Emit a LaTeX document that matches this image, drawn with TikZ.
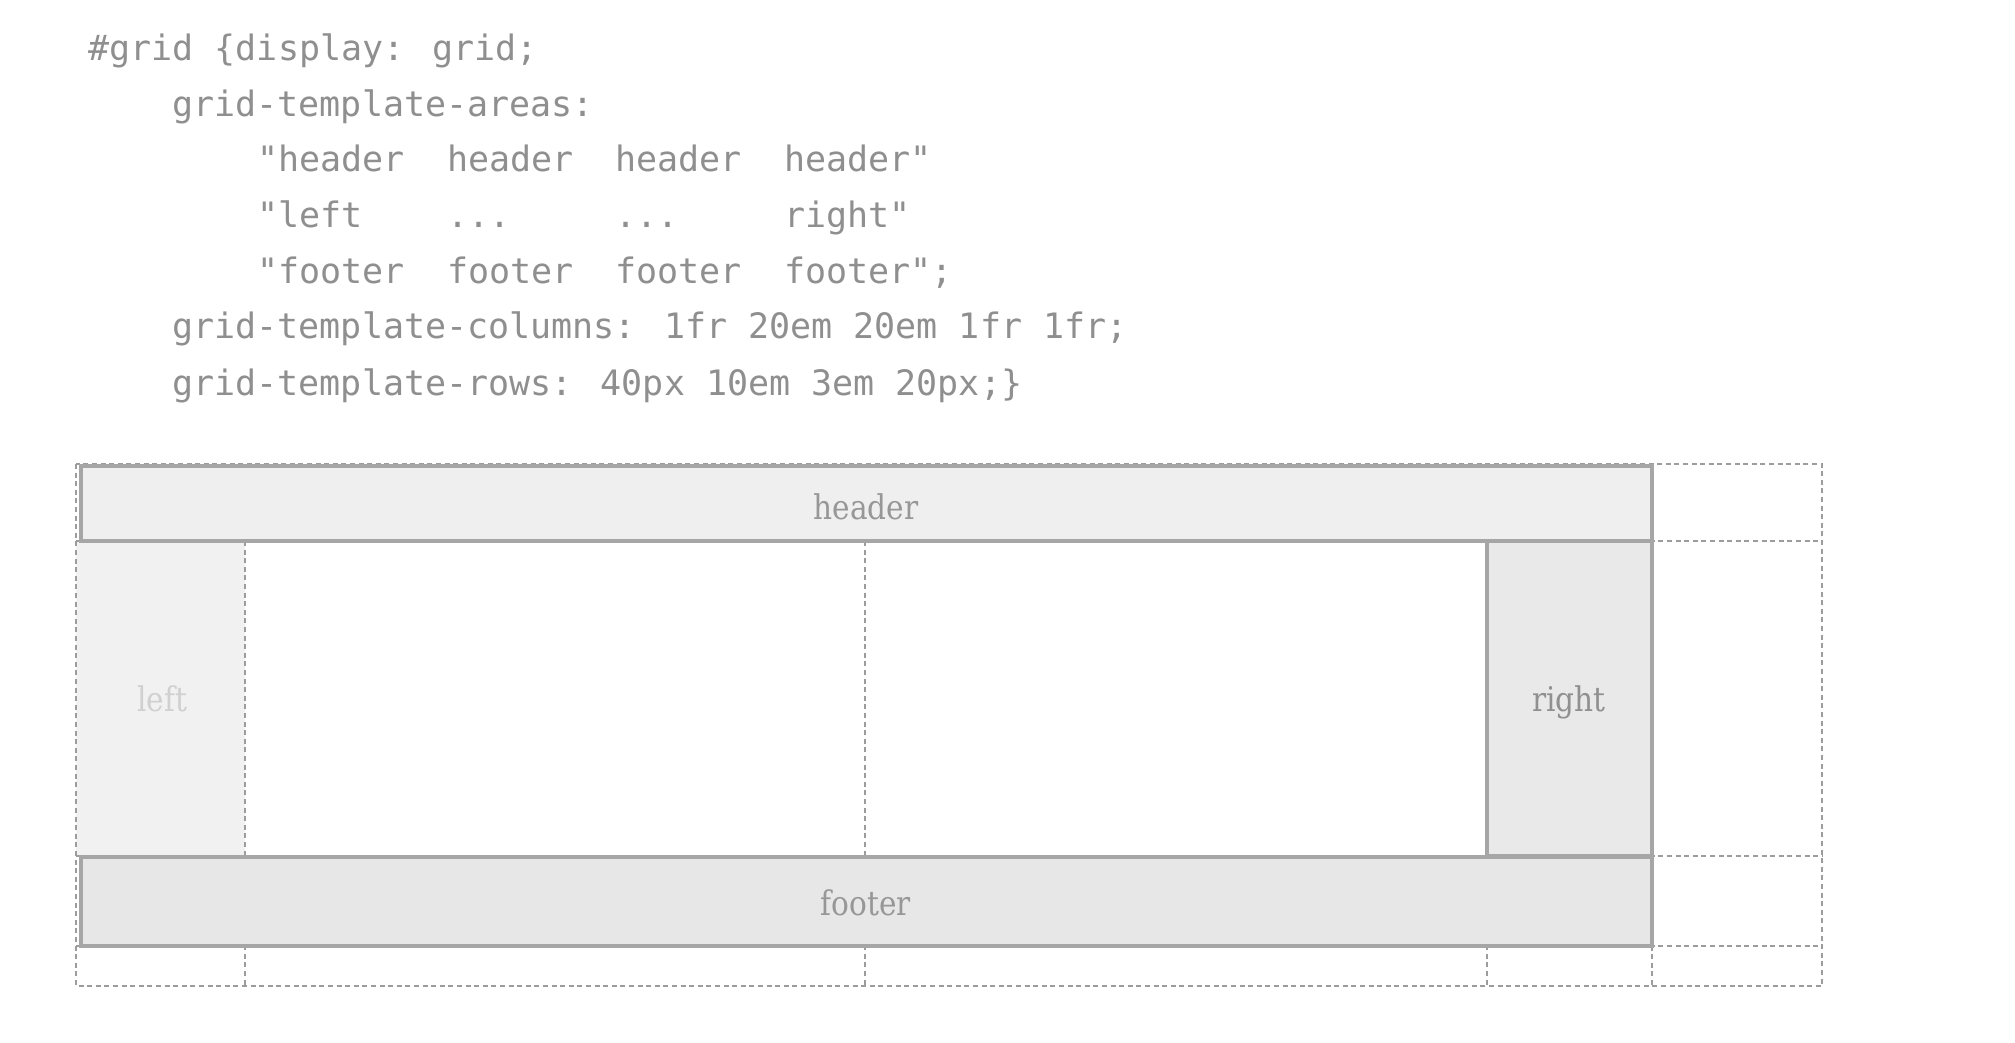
\documentclass[tikz,border=0pt]{standalone}
\usepackage{fontspec}
\newfontfamily\codefont{DejaVu Sans Mono}
\newfontfamily\labelfont[FakeStretch=0.87]{DejaVu Serif}
\definecolor{codegray}{HTML}{8F8F8F}
\definecolor{labelgray}{HTML}{979797}
\definecolor{palelabel}{HTML}{D0D0D0}
\definecolor{boxline}{HTML}{A6A6A6}
\definecolor{dashline}{HTML}{9C9C9C}
\definecolor{hdrfill}{HTML}{EFEFEF}
\definecolor{ftrfill}{HTML}{E7E7E7}
\definecolor{rgtfill}{HTML}{E9E9E9}
\definecolor{lftfill}{HTML}{F1F1F1}
\tikzset{
  codeline/.style={anchor=base west, inner sep=0pt, text=codegray, font=\codefont\fontsize{17.5pt}{20pt}\selectfont},
  arealabel/.style={anchor=base, inner sep=0pt, text=labelgray, font=\labelfont\fontsize{17pt}{20pt}\selectfont},
  gridline/.style={draw=dashline, line width=0.9pt, dash pattern=on 2.5pt off 1.8pt},
  areabox/.style={draw=boxline, line width=1.7pt}
}
\begin{document}
\begin{tikzpicture}[x=0.5pt,y=-0.5pt]
\useasboundingbox[fill=white] (0,0) rectangle (2015,1043);
% code
\node[codeline] (c1) at (88,61) {\#grid \{display: grid;};
\node[codeline] (c2) at (172,117) {grid-template-areas:};
\node[codeline] (c3) at (257,172) {"header~~header~~header~~header"};
\node[codeline] (c4) at (257,228) {"left~~~~...~~~~~...~~~~~right"};
\node[codeline] (c5) at (257,284) {"footer~~footer~~footer~~footer";};
\node[codeline] (c6) at (172,339) {grid-template-columns: 1fr 20em 20em 1fr 1fr;};
\node[codeline] (c7) at (172,395) {grid-template-rows: 40px 10em 3em 20px;\}};
% left area fill
\fill[lftfill] (76,541) rectangle (245,856);
% dashed grid
\draw[gridline] (76,464) rectangle (1822,986);
\draw[gridline] (245,541) -- (245,986);
\draw[gridline] (865,541) -- (865,986);
\draw[gridline] (1487,541) -- (1487,986);
\draw[gridline] (1652,464) -- (1652,986);
\draw[gridline] (76,541) -- (1822,541);
\draw[gridline] (76,856) -- (1822,856);
\draw[gridline] (76,946) -- (1822,946);
% areas
\filldraw[areabox, fill=hdrfill] (81,466) rectangle (1652,541);
\filldraw[areabox, fill=ftrfill] (81,857) rectangle (1652,946);
\filldraw[areabox, fill=rgtfill] (1487,541) rectangle (1652,856);
% labels
\node[arealabel] (lheader) at (866,519) {header};
\node[arealabel, text=palelabel] (lleft) at (162,711) {left};
\node[arealabel, text=labelgray!95!black] (lright) at (1569,711) {right};
\node[arealabel] (lfooter) at (866,915) {footer};
\end{tikzpicture}
\end{document}
